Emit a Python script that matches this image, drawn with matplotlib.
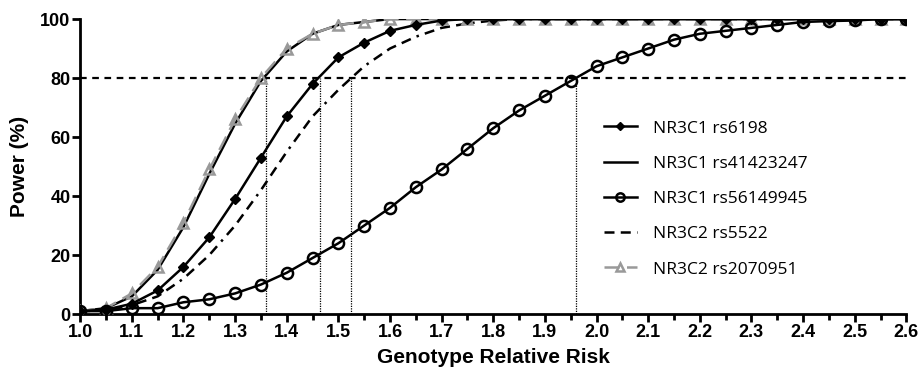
import numpy as np
import matplotlib
matplotlib.use("Agg")
import matplotlib.pyplot as plt
from matplotlib.ticker import MultipleLocator

# genotype relative risk, 1.0 .. 2.6 in steps of 0.05
grr = np.round(np.arange(1.0, 2.6001, 0.05), 2)

rs6198 = [1, 1.5, 3.5, 8, 16, 26, 39, 53, 67, 78, 87, 92, 96, 98, 99.5, 100, 100,
          100, 100, 100, 100, 100, 100, 100, 100, 100, 100, 100, 100, 100, 100, 100, 100]
rs41423247 = [1, 2, 6, 15, 29.5, 47.5, 64.5, 79, 89, 95, 98, 99, 100, 100, 100, 100, 100,
              100, 100, 100, 100, 100, 100, 100, 100, 100, 100, 100, 100, 100, 100, 100, 100]
rs56149945 = [1, 1, 2, 2, 4, 5, 7, 10, 14, 19, 24, 30, 36, 43, 49, 56, 63,
              69, 74, 79, 84, 87, 90, 93, 95, 96, 97, 98, 99, 99.3, 99.5, 100, 100]
rs5522 = [1, 1.2, 3, 6, 12, 20, 30, 42, 55, 67, 76, 84, 90, 94, 97, 98.5, 99.5,
          100, 100, 100, 100, 100, 100, 100, 100, 100, 100, 100, 100, 100, 100, 100, 100]
rs2070951 = [1, 2, 7, 16, 31, 49, 66, 80, 90, 95, 98, 99, 100, 100, 100, 100, 100,
             100, 100, 100, 100, 100, 100, 100, 100, 100, 100, 100, 100, 100, 100, 100, 100]

cutoff = 80
cross_points = [1.36, 1.465, 1.525, 1.96]

fig = plt.figure(figsize=(9.22, 3.73), dpi=100)
ax = fig.add_axes([0.087, 0.158, 0.896, 0.791])

ax.axhline(cutoff, color="black", lw=1.6, ls=(0, (3, 2.5)), zorder=1)
for xc in cross_points:
    ax.plot([xc, xc], [0, cutoff], color="black", lw=0.9, ls=(0, (1, 1)), zorder=1)

ax.plot(grr, rs5522, color="black", lw=1.8, ls=(0, (4, 2.5, 4, 2.5, 4, 2.5, 1, 2.5)),
        label="NR3C2 rs5522", zorder=2)
ax.plot(grr, rs41423247, color="black", lw=1.8, label="NR3C1 rs41423247", zorder=3)
ax.plot(grr, rs2070951, color="#999999", lw=1.8, ls=(0, (6, 3)), marker="^", ms=7,
        mfc="none", mec="#999999", mew=1.8, label="NR3C2 rs2070951", zorder=3)
ax.plot(grr, rs6198, color="black", lw=1.8, marker="D", ms=5, mfc="black",
        label="NR3C1 rs6198", zorder=4)
ax.plot(grr, rs56149945, color="black", lw=1.8, marker="o", ms=8, mfc="none",
        mew=1.8, label="NR3C1 rs56149945", zorder=4)

ax.set_xlim(1.0, 2.6)
ax.set_ylim(0, 100)
ax.xaxis.set_major_locator(MultipleLocator(0.1))
ax.xaxis.set_minor_locator(MultipleLocator(0.05))
ax.yaxis.set_major_locator(MultipleLocator(20))
ax.set_xticklabels([f"{v:.1f}" for v in ax.get_xticks()])

for s in ["top", "right"]:
    ax.spines[s].set_visible(False)
for s in ["left", "bottom"]:
    ax.spines[s].set_linewidth(2)
ax.tick_params(which="major", length=6, width=2)
ax.tick_params(which="minor", length=4, width=2)
ax.tick_params(axis="x", pad=1)
ax.tick_params(axis="y", pad=1)
for lab in ax.get_xticklabels() + ax.get_yticklabels():
    lab.set_fontfamily("Liberation Sans")
    lab.set_fontweight("bold")
    lab.set_fontsize(13)

ax.set_xlabel("Genotype Relative Risk", fontfamily="Liberation Sans", fontweight="bold",
              fontsize=15, labelpad=5)
ax.set_ylabel("Power (%)", fontfamily="Liberation Sans", fontweight="bold", fontsize=15, labelpad=8)

h, l = ax.get_legend_handles_labels()
order = ["NR3C1 rs6198", "NR3C1 rs41423247", "NR3C1 rs56149945", "NR3C2 rs5522", "NR3C2 rs2070951"]
hd = dict(zip(l, h))
ax.legend([hd[k] for k in order], order, loc="center left", bbox_to_anchor=(0.615, 0.39),
          frameon=False, prop={"family": "Open Sans", "size": 12.5}, handlelength=1.9,
          handletextpad=0.9, labelspacing=1.1, markerscale=0.75)

fig.savefig("out.png", dpi=100)
